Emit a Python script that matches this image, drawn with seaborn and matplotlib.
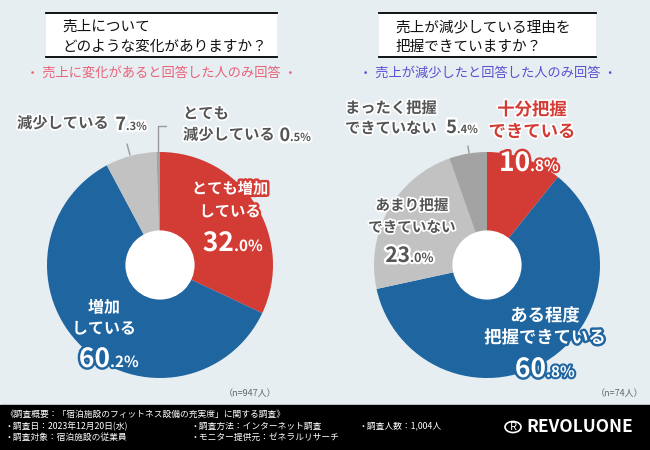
import matplotlib
matplotlib.use("Agg")
import matplotlib.pyplot as plt
import matplotlib.patheffects as pe
from matplotlib.patches import Rectangle, Circle
import seaborn as sns

sns.set_style("white")
plt.rcParams["font.family"] = ["Noto Sans CJK JP", "DejaVu Sans"]

# data
left_labels = ["とても増加\nしている", "増加\nしている", "減少している", "とても\n減少している"]
left_values = [32.0, 60.2, 7.3, 0.5]
right_labels = ["十分把握\nできている", "ある程度\n把握できている", "あまり把握\nできていない", "まったく把握\nできていない"]
right_values = [10.8, 60.8, 23.0, 5.4]
colors = ["#d33b35", "#1f65a0", "#c2c2c2", "#a3a3a3"]

W, H = 650, 450
BG = "#e6eef2"
DARK = "#555555"

fig = plt.figure(figsize=(6.5, 4.5), dpi=100)
fig.patch.set_facecolor(BG)


def fx(x):
    return x / W


def fy(y):
    return 1 - y / H


def txt(x, y, s, size, color="white", outline=None, weight="bold", ha="center",
        va="center", lw=3.5, gap=22):
    ls = gap / (0.985 * size * 100 / 72)
    t = fig.text(fx(x), fy(y), s, fontsize=size, color=color, fontweight=weight,
                 ha=ha, va=va, linespacing=ls)
    if outline:
        t.set_path_effects([pe.withStroke(linewidth=lw, foreground=outline)])
    return t


def pct(x, y, value, big, small, color="white", outline=None):
    whole, dec = f"{value:.1f}".split(".")
    txt(x, y, whole, big, color, outline, ha="right", va="baseline")
    txt(x, y, "." + dec + "%", small, color, outline, ha="left", va="baseline", lw=3)


def donut(cx, cy, r, values):
    ax = fig.add_axes([fx(cx - r), fy(cy + r), 2 * r / W, 2 * r / H])
    ax.pie(values, colors=colors, startangle=90, counterclock=False, radius=1,
           wedgeprops=dict(width=0.70, linewidth=0))
    ax.add_patch(Circle((0, 0), 0.30, color="white", zorder=5))
    ax.set_xlim(-1, 1)
    ax.set_ylim(-1, 1)
    ax.set_aspect("auto")
    ax.axis("off")
    return ax


def title_box(x0, x1, lines):
    ax = fig.add_axes([fx(x0), fy(57), (x1 - x0) / W, 44 / H])
    ax.set_facecolor("white")
    for s in ["left", "right"]:
        ax.spines[s].set_visible(False)
    for s in ["top", "bottom"]:
        ax.spines[s].set_visible(True)
        ax.spines[s].set_color("black")
        ax.spines[s].set_linewidth(1.3)
    ax.set_xticks([])
    ax.set_yticks([])
    txt(x0 + 16, 37, lines, 10.5, color="#111111", weight="normal", ha="left")


# ---- left chart
title_box(46, 277, "売上について\nどのような変化がありますか？")
txt(162, 73, "・ 売上に変化があると回答した人のみ回答 ・", 9.5, color="#e8627a", weight="normal")
donut(160, 265, 113, left_values)

txt(230, 200, left_labels[0], 11, outline="#d33b35", gap=23)
pct(234, 251, left_values[0], 19, 11, outline="#d33b35")
txt(104, 318, left_labels[1], 11.5, outline="#1f65a0")
pct(110, 367, left_values[1], 19, 11, outline="#1f65a0")

txt(17, 123, left_labels[2], 11, color=DARK, outline="white", ha="left", lw=2.5)
pct(126, 130, left_values[2], 13, 8, color=DARK, outline="white")
txt(183, 124, left_labels[3], 11, color=DARK, outline="white", ha="left", lw=2.5, gap=21)
pct(290, 141, left_values[3], 13, 8, color=DARK, outline="white")
fig.add_artist(plt.Line2D([fx(158), fx(158), fx(166)], [fy(152), fy(126), fy(126)],
                          color="#999999", lw=1))
fig.add_artist(plt.Line2D([fx(127), fx(130)], [fy(144), fy(155)], color="#999999", lw=1))

txt(250, 394, "（n=947人）", 6.5, color="#666666", weight="normal")

# ---- right chart
title_box(379, 596, "売上が減少している理由を\n把握できていますか？")
txt(488, 73, "・ 売上が減少したと回答した人のみ回答 ・", 9.5, color="#5a4fd0", weight="normal")
donut(487, 265, 113, right_values)

txt(532, 121, right_labels[0], 12.5, color="#d33b35", outline="white", lw=2.5)
pct(530, 171, right_values[0], 19, 11, outline="#d33b35")
txt(545, 327, right_labels[1], 12.5, outline="#1f65a0")
pct(546, 377, right_values[1], 19, 11, outline="#1f65a0")
txt(412, 216, right_labels[2], 10.5, color=DARK, outline="white", lw=2.5, gap=21)
pct(410, 262, right_values[2], 15, 9, color=DARK, outline="white")
txt(345, 118, right_labels[3], 11, color=DARK, outline="white", ha="left", lw=2.5, gap=20)
pct(457, 133, right_values[3], 13, 8, color=DARK, outline="white")
fig.add_artist(plt.Line2D([fx(468), fx(469)], [fy(146), fy(153)], color="#999999", lw=1))

txt(620, 394, "（n=74人）", 6.5, color="#666666", weight="normal")

# ---- footer
fig.add_artist(Rectangle((0, 0), 1, 45 / H, transform=fig.transFigure, color="black", zorder=0))
fs = 6.3
txt(5, 414, "《調査概要：「宿泊施設のフィットネス設備の充実度」に関する調査》", fs, weight="normal", ha="left")
txt(5, 426, "・調査日：2023年12月20日(水)", fs, weight="normal", ha="left")
txt(5, 437, "・調査対象：宿泊施設の従業員", fs, weight="normal", ha="left")
txt(190, 426, "・調査方法：インターネット調査", fs, weight="normal", ha="left")
txt(190, 437, "・モニター提供元：ゼネラルリサーチ", fs, weight="normal", ha="left")
txt(358, 426, "・調査人数：1,004人", fs, weight="normal", ha="left")
fig.add_artist(Circle((fx(513), fy(427)), 8 / W, transform=fig.transFigure,
                      fill=False, edgecolor="white", lw=1.2))
txt(513, 427, "R", 8, weight="normal")
txt(526, 427, "REVOLUONE", 12.5, ha="left")

fig.savefig("out.png", dpi=100, facecolor=BG)
